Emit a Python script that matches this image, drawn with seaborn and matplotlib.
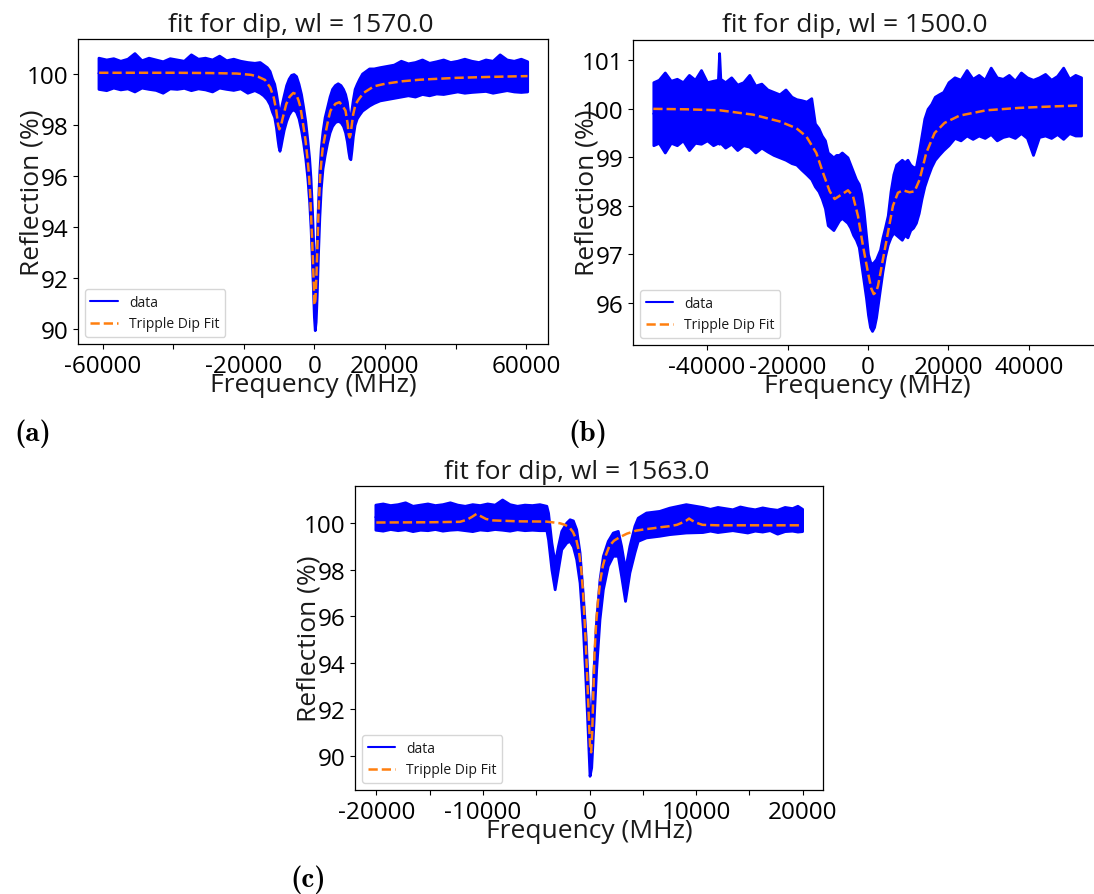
import numpy as np
import pandas as pd
import matplotlib
matplotlib.use("Agg")
import matplotlib.pyplot as plt
import seaborn as sns

# ---------------- panel (a): wl = 1570.0 ----------------
freq_a = [-61200, -59000, -57000, -55000, -53000, -51000, -49000, -47000, -45000, -43000,
          -41000, -39000, -37000, -35000, -33000, -31000, -29000, -27000, -25000, -23000,
          -21000, -19000, -17000,
          -15500, -14500, -13500, -12700, -12000, -11400, -10900, -10500, -10200, -9900,
          -9600, -9200, -8700, -8000, -7300, -6600, -5900, -5200, -4500, -3800,
          -3200, -2600, -2000, -1500, -1100, -700, -400, -150, 100, 350,
          650, 1000, 1400, 1800, 2300, 2900, 3600, 4300, 5000, 5800,
          6600, 7400, 8100, 8700, 9200, 9600, 9900, 10200, 10500, 10900,
          11400, 12000, 12700, 13500, 14500, 15500, 16800,
          18500, 20500, 22500, 24500, 26500, 28500, 30500, 32500, 34500, 36500,
          38500, 40500, 42500, 44500, 46500, 48500, 50500, 52500, 54500, 56500,
          58500, 60300]
hi_a = [100.62, 100.55, 100.60, 100.50, 100.58, 100.80, 100.52, 100.62, 100.55, 100.48,
        100.60, 100.55, 100.50, 100.75, 100.58, 100.62, 100.55, 100.70, 100.52, 100.58,
        100.50, 100.45, 100.42,
        100.45, 100.35, 100.25, 100.10, 99.80, 99.60, 99.25, 98.90, 98.60, 98.45,
        98.60, 98.85, 99.15, 99.55, 99.80, 99.95, 99.98, 99.90, 99.60, 99.20,
        98.70, 98.15, 97.40, 96.70, 95.90, 94.70, 93.60, 92.60, 91.90, 92.30,
        93.40, 94.90, 96.20, 97.10, 97.75, 98.30, 98.70, 99.10, 99.40, 99.55,
        99.62, 99.55, 99.40, 99.20, 98.90, 98.45, 98.25, 98.30, 98.60, 99.00,
        99.40, 99.60, 99.80, 100.00, 100.10, 100.20, 100.20,
        100.25, 100.30, 100.35, 100.50, 100.40, 100.45, 100.55, 100.42, 100.48, 100.55,
        100.45, 100.50, 100.58, 100.50, 100.45, 100.55, 100.50, 100.75, 100.55, 100.50,
        100.58, 100.48]
lo_a = [99.40, 99.35, 99.45, 99.38, 99.42, 99.30, 99.45, 99.40, 99.36, 99.25,
        99.42, 99.40, 99.44, 99.35, 99.42, 99.38, 99.30, 99.45, 99.40, 99.36,
        99.42, 99.25, 99.35,
        99.25, 99.15, 99.00, 98.80, 98.50, 98.30, 97.90, 97.45, 97.15, 96.98,
        97.15, 97.45, 97.80, 98.15, 98.40, 98.55, 98.60, 98.50, 98.25, 97.80,
        97.30, 96.70, 95.90, 95.00, 94.00, 92.60, 91.50, 90.50, 89.97, 90.30,
        91.30, 92.90, 94.40, 95.50, 96.30, 96.80, 97.30, 97.70, 97.95, 98.10,
        98.15, 98.10, 97.95, 97.70, 97.35, 96.95, 96.70, 96.65, 97.00, 97.55,
        98.00, 98.25, 98.40, 98.55, 98.65, 98.75, 98.85,
        98.95, 99.00, 99.05, 99.10, 99.15, 99.10, 99.20, 99.15, 99.22, 99.20,
        99.25, 99.30, 99.25, 99.28, 99.30, 99.32, 99.25, 99.30, 99.35, 99.30,
        99.28, 99.30]
fit_freq_a = [-61000, -50000, -40000, -30000, -22000, -18000, -16000, -14000, -12500, -11500,
              -10800, -10300, -9940, -9500, -9000, -8000, -7000, -6000, -5200, -4500,
              -3980, -3300, -2560, -1900, -1610, -1200, -900, -660, -400, -190,
              0, 100, 300, 550, 760, 1000, 1230, 1450, 1700, 2000,
              2370, 3125, 4000, 4545, 5970, 7100, 7900, 8810, 9400, 9750,
              10000, 10230, 10600, 10980, 11650, 12590, 14010, 16850, 20000, 25000,
              30000, 40000, 50000, 60400]
fit_a = [100.03, 100.03, 100.03, 100.02, 100.0, 99.95, 99.88, 99.75, 99.45, 99.05,
         98.55, 98.0, 97.82, 97.95, 98.25, 98.8, 99.1, 99.24, 99.2, 98.95,
         98.7, 98.1, 97.43, 96.6, 96.14, 95.3, 94.3, 93.54, 92.6, 91.8,
         91.0, 90.95, 91.2, 92.0, 92.9, 93.9, 94.84, 95.5, 96.14, 96.6,
         97.1, 97.65, 98.25, 98.55, 98.82, 98.88, 98.75, 98.55, 98.05, 97.6,
         97.5, 97.6, 98.0, 98.4, 98.8, 99.0, 99.25, 99.5, 99.6, 99.7,
         99.76, 99.83, 99.87, 99.9]

# ---------------- panel (b): wl = 1500.0 ----------------
freq_b = [-53350, -52000, -50500, -49000, -47500, -46000, -44500, -43000, -41500, -40000,
          -38500, -37300, -37000, -36700, -35500, -34000, -32500, -31000, -29500, -28000, -26500, -25000,
          -23500, -22000, -20500, -19000, -17800, -16600, -15300, -14100, -13200, -12300,
          -11500, -10700, -10000, -9300, -8600, -7900, -7200, -6500, -5800, -5100,
          -4400, -3700, -3000, -2300, -1700, -1100, -500, 0, 500, 1000,
          1500, 2000, 2500, 3000, 3600, 4200, 4900, 5600, 6300, 7000,
          7700, 8400, 9100, 9800, 10500, 11200, 11900, 12600, 13300, 14000,
          14800, 15700, 16600, 17600, 18700, 20000, 21500, 23000, 24500, 26000,
          27500, 29000, 30500, 32000, 33500, 35000, 36500, 38000, 39500, 41000,
          42500, 44000, 45500, 47000, 48500, 50000, 51500, 52940]
hi_b = [100.55, 100.60, 100.75, 100.58, 100.62, 100.55, 100.70, 100.60, 100.80, 100.55,
        100.58, 100.60, 101.15, 100.62, 100.55, 100.65, 100.50, 100.55, 100.70, 100.48, 100.52, 100.40,
        100.35, 100.30, 100.40, 100.25, 100.20, 100.18, 100.15, 100.22, 99.70, 99.60,
        99.45, 99.35, 99.10, 99.05, 99.00, 99.05, 99.05, 99.10, 99.05, 99.00,
        98.85, 98.70, 98.55, 98.45, 98.25, 97.90, 97.40, 97.00, 96.85, 96.80,
        96.85, 96.90, 97.00, 97.10, 97.35, 97.55, 97.80, 98.30, 98.65, 98.85,
        98.90, 98.95, 98.90, 98.95, 98.85, 98.80, 98.80, 99.10, 99.45, 99.80,
        100.00, 100.10, 100.25, 100.30, 100.35, 100.55, 100.65, 100.60, 100.80, 100.62,
        100.70, 100.60, 100.85, 100.65, 100.62, 100.70, 100.58, 100.75, 100.65, 100.60,
        100.65, 100.72, 100.60, 100.68, 100.85, 100.62, 100.70, 100.65]
lo_b = [99.25, 99.30, 99.10, 99.30, 99.25, 99.35, 99.15, 99.30, 99.28, 99.35,
        99.25, 99.30, 99.28, 99.30, 99.20, 99.28, 99.15, 99.25, 99.22, 99.10, 99.20, 99.12,
        99.05, 99.00, 98.95, 98.88, 98.85, 98.75, 98.65, 98.55, 98.40, 98.30,
        98.15, 97.95, 97.60, 97.55, 97.50, 97.60, 97.70, 97.75, 97.70, 97.65,
        97.55, 97.40, 97.30, 97.15, 96.80, 96.45, 96.10, 95.75, 95.50, 95.42,
        95.50, 95.70, 96.00, 96.30, 96.65, 96.95, 97.20, 97.35, 97.45, 97.40,
        97.35, 97.30, 97.40, 97.35, 97.50, 97.55, 97.65, 97.85, 98.15, 98.40,
        98.60, 98.80, 98.95, 99.05, 99.15, 99.25, 99.40, 99.35, 99.45, 99.38,
        99.45, 99.40, 99.48, 99.35, 99.42, 99.45, 99.40, 99.50, 99.40, 99.05,
        99.42, 99.45, 99.40, 99.48, 99.38, 99.50, 99.45, 99.45]
fit_freq_b = [-53350, -45000, -36840, -28560, -21940, -17800, -15320, -12840, -11180, -9520,
              -8280, -6630, -4970, -3730, -2490, -1240, 0, 800, 1410, 2000,
              2490, 3720, 4960, 6200, 7440, 8680, 10330, 11580, 12820, 14470,
              16540, 19020, 22740, 29360, 37630, 45900, 52940]
fit_b = [100.0, 99.99, 99.97, 99.88, 99.74, 99.6, 99.43, 99.09, 98.68, 98.3,
         98.14, 98.23, 98.32, 98.2, 97.79, 97.17, 96.62, 96.3, 96.18, 96.22,
         96.35, 96.9, 97.45, 98.0, 98.27, 98.32, 98.28, 98.3, 98.54, 99.09,
         99.5, 99.71, 99.86, 99.97, 100.02, 100.05, 100.07]

# ---------------- panel (c): wl = 1563.0 ----------------
freq_c = [-20090, -19400, -18700, -18000, -17300, -16600, -15900, -15200, -14500, -13800,
          -13100, -12400, -11700, -11000, -10300, -9600, -8900, -8200, -7500, -6800,
          -6100, -5400, -4700,
          -4050, -3890, -3580, -3270, -2960, -2650, -2180, -1870, -1560, -1250,
          -935, -623, -374, -156, 0, 156, 374, 623, 935, 1250,
          1710, 2180, 2650, 2960, 3330, 3740, 4210, 4520, 5300, 6540,
          7480, 9030, 10590,
          11300, 12000, 12700, 13400, 14100, 14800, 15500, 16200, 16900, 17600,
          18300, 19000, 19500, 19940]
hi_c = [100.80, 100.85, 100.78, 100.82, 100.90, 100.75, 100.80, 100.85, 100.78, 100.82,
        100.90, 100.80, 100.75, 100.82, 100.78, 100.85, 100.80, 101.02, 100.82, 100.75,
        100.80, 100.78, 100.82,
        100.75, 100.45, 99.17, 98.30, 99.03, 99.67, 100.03, 100.17, 100.12, 99.74,
        98.74, 96.90, 95.16, 93.00, 91.80, 91.43, 93.73, 95.87, 97.59, 98.60,
        99.24, 99.60, 99.67, 99.03, 98.02, 99.03, 99.89, 100.24, 100.46, 100.53,
        100.67, 100.82, 100.70,
        100.62, 100.70, 100.65, 100.60, 100.72, 100.65, 100.60, 100.68, 100.62, 100.58,
        100.70, 100.65, 100.75, 100.62]
lo_c = [99.72, 99.68, 99.75, 99.70, 99.74, 99.66, 99.72, 99.70, 99.75, 99.68,
        99.72, 99.74, 99.70, 99.66, 99.73, 99.70, 99.75, 99.72, 99.68, 99.74,
        99.70, 99.72, 99.70,
        99.70, 99.30, 98.02, 97.16, 98.02, 98.88, 99.17, 99.24, 99.00, 98.45,
        97.45, 95.44, 93.15, 90.86, 89.14, 89.50, 91.43, 93.73, 95.87, 97.16,
        98.17, 98.60, 98.60, 97.74, 96.66, 97.88, 98.74, 99.24, 99.39, 99.46,
        99.53, 99.60, 99.62,
        99.68, 99.62, 99.66, 99.70, 99.65, 99.60, 99.68, 99.64, 99.70, 99.55,
        99.66, 99.68, 99.64, 99.66]
fit_freq_c = [-20000, -15000, -12150, -11500, -11000, -10600, -10200, -9700, -9030, -6540,
              -4050, -2800, -2300, -1870, -1550, -1250, -1000, -780, -620, -470,
              -350, -250, -150, -60, 50, 150, 250, 350, 470, 620,
              780, 1000, 1250, 1550, 1870, 2300, 2800, 3500, 4360, 5200,
              5920, 6700, 7480, 8200, 8720, 9100, 9340, 9600, 9970, 10590,
              12000, 16000, 20000]
fit_c = [100.03, 100.04, 100.06, 100.15, 100.28, 100.4, 100.3, 100.18, 100.12, 100.08,
         100.07, 100.0, 99.93, 99.81, 99.62, 99.31, 98.8, 98.02, 97.1, 95.87,
         94.8, 93.72, 92.6, 91.57, 90.4, 90.15, 91.0, 92.6, 94.44, 95.7,
         96.59, 97.5, 98.17, 98.65, 99.03, 99.25, 99.39, 99.55, 99.68, 99.74,
         99.78, 99.83, 99.87, 99.93, 100.03, 100.12, 100.2, 100.12, 100.03, 99.93,
         99.91, 99.91, 99.91]

titles = ["fit for dip, wl = 1570.0", "fit for dip, wl = 1500.0", "fit for dip, wl = 1563.0"]
xtick_vals_a = [-60000, -40000, -20000, 0, 20000, 40000, 60000]
xtick_text_a = ["-60000", "", "-20000", "0", "20000", "", "60000"]
xtick_vals_b = [-40000, -20000, 0, 20000, 40000]
xtick_text_b = ["-40000", "-20000", "0", "20000", "40000"]
xtick_vals_c = [-20000, -15000, -10000, -5000, 0, 5000, 10000, 15000, 20000]
xtick_text_c = ["-20000", "", "-10000", "", "0", "", "10000", "", "20000"]
ytick_vals_a = [90, 92, 94, 96, 98, 100]
ytick_vals_b = [96, 97, 98, 99, 100, 101]
ytick_vals_c = [90, 92, 94, 96, 98, 100]
panel_letters = ["(a)", "(b)", "(c)"]

sns.set_theme(style="ticks", rc={
    "axes.edgecolor": "black", "axes.linewidth": 0.9,
    "xtick.major.size": 3.5, "ytick.major.size": 3.5,
    "xtick.major.width": 0.8, "ytick.major.width": 0.8,
    "xtick.major.pad": 3.5, "ytick.major.pad": 3.5,
    "xtick.color": "black", "ytick.color": "black",
    "text.color": "#1a1a1a", "axes.labelcolor": "#1a1a1a",
})
plt.rcParams["font.family"] = ["Open Sans", "DejaVu Sans"]

W, H = 1094, 895
fig = plt.figure(figsize=(W / 100, H / 100), dpi=100)


def add_ax(left, top, right, bottom):
    return fig.add_axes([left / W, 1 - bottom / H, (right - left) / W, (bottom - top) / H])


ax_a = add_ax(78, 40, 548, 345)
ax_b = add_ax(633, 40.5, 1101, 346)
ax_c = add_ax(355, 487, 823, 791)

TICK_FS = 17.5
TITLE_FS = 19
LABEL_FS = 19


def draw_panel(ax, freq, hi, lo, ffreq, fit, title, xlim, ylim, xt, xtl, yt):
    df = pd.DataFrame({"freq": list(freq) + list(freq), "refl": list(hi) + list(lo)})
    sns.lineplot(data=df, x="freq", y="refl", estimator="mean", errorbar=("pi", 100),
                 color="blue", linewidth=1.5,
                 err_kws={"alpha": 1.0, "linewidth": 2.0}, label="data", ax=ax)
    sns.lineplot(x=ffreq, y=fit, color="#ff7f0e", linestyle="--", linewidth=1.8,
                 errorbar=None, label="Tripple Dip Fit", ax=ax)
    ax.set_xlim(*xlim)
    ax.set_ylim(*ylim)
    ax.set_xticks(xt)
    ax.set_xticklabels(xtl, fontsize=TICK_FS)
    ax.set_yticks(yt)
    ax.set_yticklabels([str(v) for v in yt], fontsize=TICK_FS)
    ax.set_title(title, fontsize=TITLE_FS, x=0.474)
    ax.set_xlabel("Frequency (MHz)", fontsize=LABEL_FS)
    ax.xaxis.set_label_coords(0.5, -0.154)
    ax.xaxis.label.set_va("baseline")
    ax.set_ylabel("Reflection (%)", fontsize=LABEL_FS)
    ax.yaxis.set_label_coords(-0.084, 0.5)
    ax.yaxis.label.set_va("baseline")
    ax.legend(loc="lower left", fontsize=10, frameon=True)


draw_panel(ax_a, freq_a, hi_a, lo_a, fit_freq_a, fit_a, titles[0],
           (-67000, 66200), (89.43, 101.35), xtick_vals_a, xtick_text_a, ytick_vals_a)
draw_panel(ax_b, freq_b, hi_b, lo_b, fit_freq_b, fit_b, titles[1],
           (-58400, 57900), (95.13, 101.43), xtick_vals_b, xtick_text_b, ytick_vals_b)
draw_panel(ax_c, freq_c, hi_c, lo_c, fit_freq_c, fit_c, titles[2],
           (-22000, 21900), (88.53, 101.6), xtick_vals_c, xtick_text_c, ytick_vals_c)

letter_pos = [(14, 441), (568, 441), (290, 887)]
for txt, (x, y) in zip(panel_letters, letter_pos):
    fig.text(x / W, 1 - y / H, txt, fontsize=21, fontweight="bold",
             family=["cmb10", "DejaVu Serif"], va="baseline", ha="left", color="black")

fig.savefig("out.png", dpi=100)
